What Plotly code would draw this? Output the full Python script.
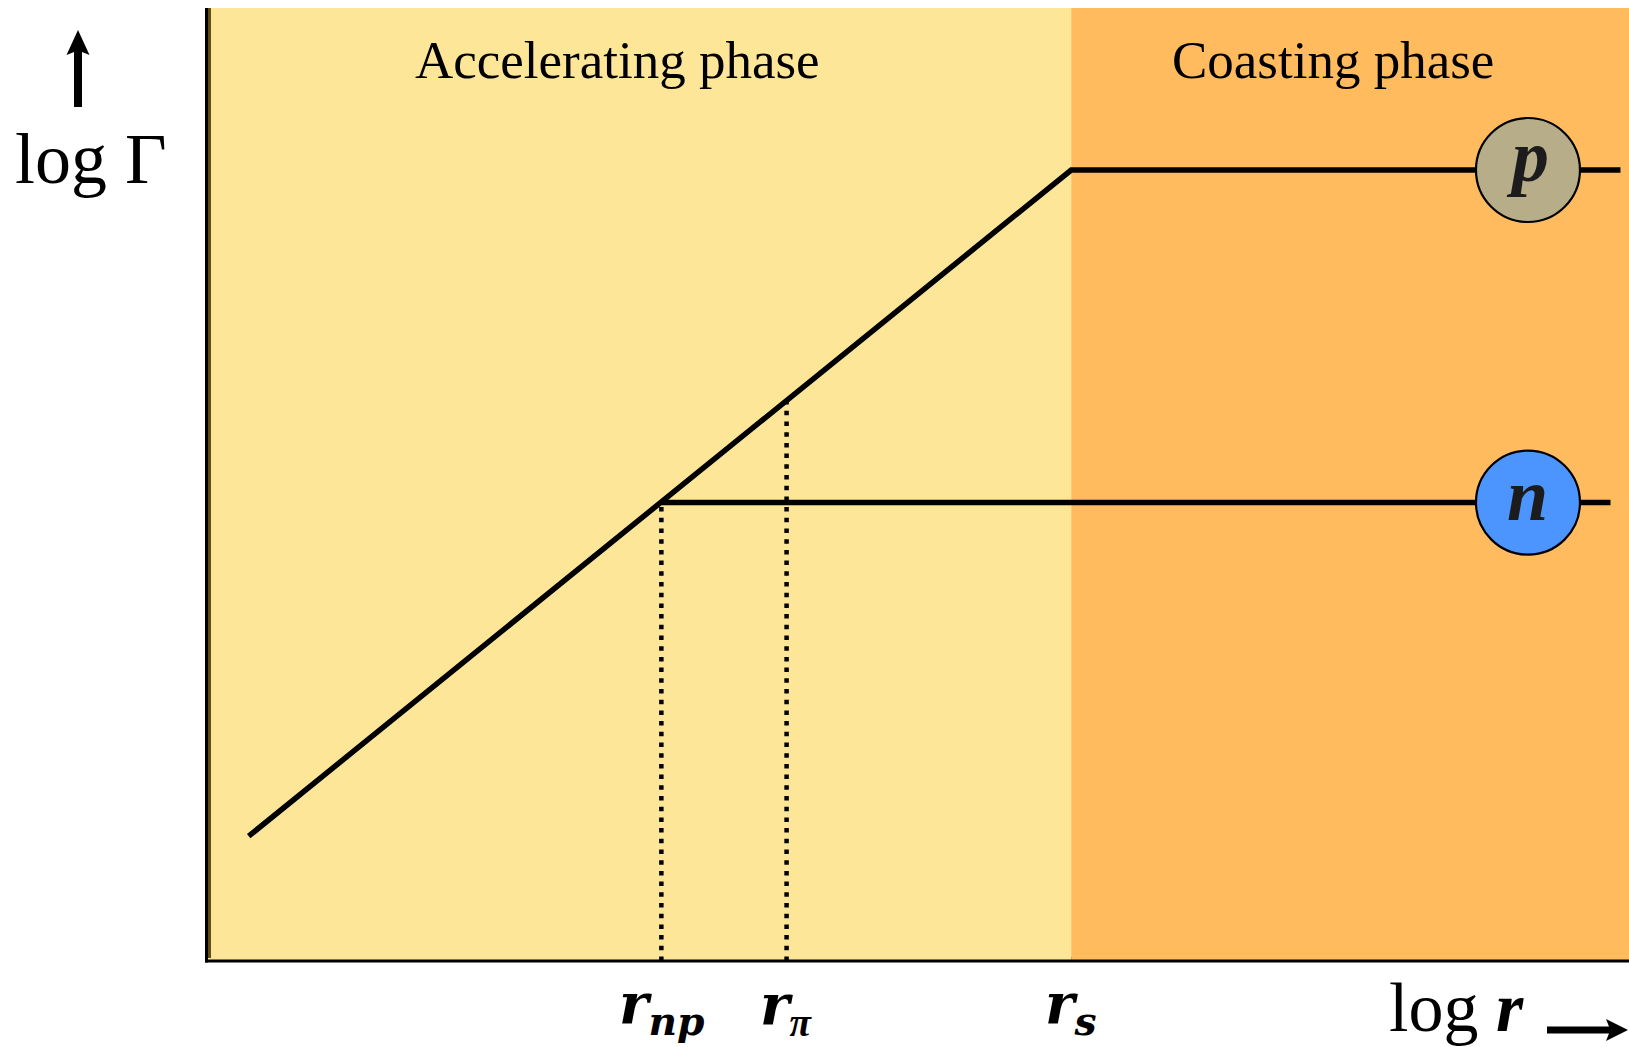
import plotly.graph_objects as go

# Schematic: Lorentz factor vs radius for a fireball with neutrons (log-log, arbitrary units)
# Accelerating branch Γ ∝ r until saturation radius r_s
accel_logr = [0.30, 6.08]
accel_logG = [1.31, 8.30]
# Proton coasting branch after r_s
proton_logr = [6.08, 9.94]
proton_logG = [8.30, 8.30]
# Neutron coasting branch after decoupling at r_np
neutron_logr = [3.20, 9.87]
neutron_logG = [4.81, 4.81]

# Characteristic radii and the Γ reached there
radius_names = ["r_np", "r_pi", "r_s"]
radius_logr = [3.20, 4.08, 6.08]
radius_labels = ["<b><i>r</i></b><sub><b><i>np</i></b></sub>",
                 "<b><i>r</i></b><sub><b><i><span style=\"font-family:Liberation Serif\">π</span></i></b></sub>",
                 "<b><i>r</i></b><sub><b><i>s</i></b></sub>"]
drop_logG = [4.81, 5.88]          # top of the dotted guides at r_np, r_pi

# Particle badges on the coasting branches
badge_logr = [9.29, 9.29]
badge_logG = [8.30, 4.81]
badge_text = ["p", "n"]
badge_fill = ["#B7AD89", "#4D95FE"]

phase_names = ["Accelerating phase", "Coasting phase"]

X_RANGE = [0, 10]
Y_RANGE = [0, 10]

W, H = 1629, 1047
ML, MR, MT, MB = 206, 0, 8, 86
PW, PH = W - ML - MR, H - MT - MB

def px(x):
    return (x - ML) / PW

def py(y):
    return (MT + PH - y) / PH

SERIF = "Liberation Serif"
MATH = "DejaVu Serif"
YELLOW = "#FEE698"
ORANGE = "#FFBB5E"
OLIVE = "#5E4E14"
LW = 5.5

fig = go.Figure()

# Branches of log Γ
fig.add_trace(go.Scatter(
    x=accel_logr + proton_logr[1:], y=accel_logG + proton_logG[1:],
    mode="lines", line=dict(color="black", width=LW),
    hoverinfo="skip", showlegend=False))
fig.add_trace(go.Scatter(
    x=neutron_logr, y=neutron_logG,
    mode="lines", line=dict(color="black", width=LW),
    hoverinfo="skip", showlegend=False))

# Dotted guides down to the r axis
for r, g in zip(radius_logr[:2], drop_logG):
    fig.add_trace(go.Scatter(
        x=[r, r], y=[Y_RANGE[0], g], mode="lines",
        line=dict(color="black", width=4.5, dash="4.5px,6.2px"),
        hoverinfo="skip", showlegend=False))

# Particle badges
fig.add_trace(go.Scatter(
    x=badge_logr, y=badge_logG, mode="markers",
    marker=dict(size=104, color=badge_fill, line=dict(color="black", width=2.2)),
    hoverinfo="skip", showlegend=False))

r_s = radius_logr[2]
shapes = [
    # phase backgrounds
    dict(type="rect", xref="x", yref="y", x0=X_RANGE[0], x1=r_s, y0=Y_RANGE[0], y1=Y_RANGE[1],
         fillcolor=YELLOW, line=dict(width=0), layer="below"),
    dict(type="rect", xref="x", yref="y", x0=r_s, x1=X_RANGE[1], y0=Y_RANGE[0], y1=Y_RANGE[1],
         fillcolor=ORANGE, line=dict(width=0), layer="below"),
    # bottom edge shading
    dict(type="rect", xref="x", yref="paper", x0=X_RANGE[0], x1=r_s, y0=py(960), y1=py(956),
         fillcolor=OLIVE, line=dict(width=0), layer="below"),
    dict(type="rect", xref="x", yref="paper", x0=r_s, x1=X_RANGE[1], y0=py(960), y1=py(957),
         fillcolor="black", line=dict(width=0), layer="below"),
    # left edge shading and axes
    dict(type="rect", xref="paper", yref="paper", x0=px(207.5), x1=px(211), y0=py(958), y1=py(8),
         fillcolor=OLIVE, line=dict(width=0)),
    dict(type="rect", xref="paper", yref="paper", x0=px(205), x1=px(208), y0=py(962.5), y1=py(8),
         fillcolor="black", line=dict(width=0)),
    dict(type="rect", xref="paper", yref="paper", x0=px(205), x1=px(1629), y0=py(962.5), y1=py(959.5),
         fillcolor="black", line=dict(width=0)),
    # axis direction arrows
    dict(type="path", xref="paper", yref="paper",
         path=(f"M{px(74)},{py(107)} L{px(82)},{py(107)} L{px(82)},{py(52)} "
               f"L{px(89.5)},{py(55)} L{px(78)},{py(30)} L{px(66.5)},{py(55)} L{px(74)},{py(52)} Z"),
         fillcolor="black", line=dict(width=0)),
    dict(type="path", xref="paper", yref="paper",
         path=(f"M{px(1547)},{py(1026.5)} L{px(1609)},{py(1026.5)} L{px(1606)},{py(1019)} "
               f"L{px(1628)},{py(1030)} L{px(1606)},{py(1041)} L{px(1609)},{py(1033.5)} L{px(1547)},{py(1033.5)} Z"),
         fillcolor="black", line=dict(width=0)),
]

annotations = []
# Phase titles
for name, xc in zip(phase_names, [617, 1333]):
    annotations.append(dict(text=name, xref="paper", yref="paper", x=px(xc), y=py(60),
                            xanchor="center", yanchor="middle", showarrow=False,
                            font=dict(family=SERIF, size=53, color="black")))
# Axis titles
annotations.append(dict(text="log Γ", xref="paper", yref="paper", x=px(91), y=py(159),
                        xanchor="center", yanchor="middle", showarrow=False,
                        font=dict(family=SERIF, size=72, color="black")))
annotations.append(dict(text="log <b><i>r</i></b>", xref="paper", yref="paper", x=px(1456), y=py(1007),
                        xanchor="center", yanchor="middle", showarrow=False,
                        font=dict(family=SERIF, size=70, color="black")))
# Radius labels under the axis
for r, lab in zip(radius_logr, radius_labels):
    annotations.append(dict(text=lab, xref="x", yref="paper", x=r, y=py(1046),
                            xanchor="center", yanchor="bottom", showarrow=False,
                            font=dict(family=MATH, size=56, color="black")))
# Badge letters
badge_yshift = [14, 8]
for r, g, t, dy in zip(badge_logr, badge_logG, badge_text, badge_yshift):
    annotations.append(dict(text=f"<b><i>{t}</i></b>", xref="x", yref="y", x=r, y=g,
                            xanchor="center", yanchor="middle", yshift=dy, showarrow=False,
                            font=dict(family=SERIF, size=74, color="#1c1c1c")))

fig.update_layout(
    width=W, height=H,
    margin=dict(l=ML, r=MR, t=MT, b=MB, pad=0),
    paper_bgcolor="white", plot_bgcolor="white",
    xaxis=dict(range=X_RANGE, visible=False, fixedrange=True),
    yaxis=dict(range=Y_RANGE, visible=False, fixedrange=True),
    shapes=shapes, annotations=annotations,
    showlegend=False,
)

fig.write_html("out.html", config={"displayModeBar": False})
